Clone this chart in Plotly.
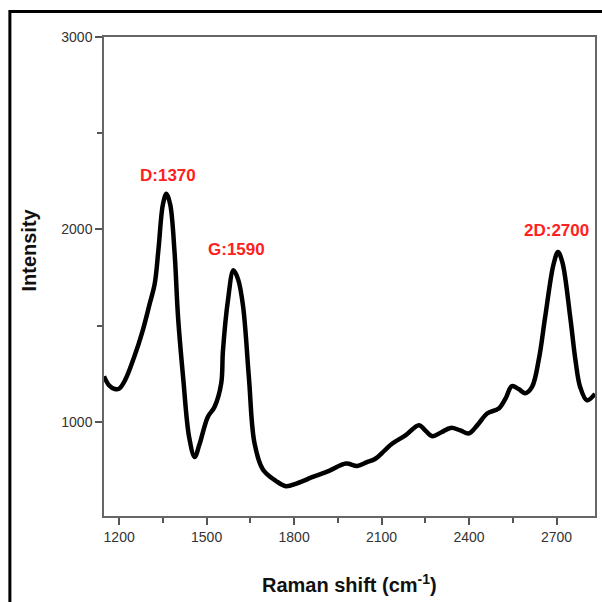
import plotly.graph_objects as go

raman_shift = [1148, 1165, 1185, 1200, 1220, 1250, 1280, 1305, 1322, 1335, 1350, 1362, 1375, 1390,
               1402, 1420, 1440, 1459, 1475, 1504, 1527, 1550, 1556, 1573, 1592, 1608, 1625, 1645,
               1664, 1693, 1738, 1772, 1810, 1864, 1920, 1978, 2017, 2050, 2080, 2110, 2137, 2183,
               2228, 2250, 2274, 2305, 2337, 2370, 2399, 2430, 2462, 2502, 2525, 2547, 2570, 2593,
               2616, 2640, 2661, 2690, 2705, 2720, 2747, 2765, 2781, 2804, 2832]
intensity = [1236, 1190, 1170, 1172, 1215, 1330, 1470, 1615, 1718, 1900, 2130, 2185, 2130, 1880,
             1544, 1220, 920, 817, 880, 1025, 1077, 1200, 1370, 1630, 1787, 1740, 1600, 1230,
             890, 752, 692, 665, 680, 713, 745, 783, 770, 790, 809, 850, 887, 930,
             982, 955, 925, 945, 968, 955, 939, 985, 1043, 1069, 1120, 1185, 1170, 1148,
             1181, 1330, 1544, 1820, 1882, 1830, 1544, 1320, 1181, 1112, 1145]

peak_labels = ["D:1370", "G:1590", "2D:2700"]
peak_label_x = [1366, 1601, 2701]
peak_label_y = [2280, 1896, 1995]

x_ticks = [1200, 1500, 1800, 2100, 2400, 2700]
y_ticks = [1000, 2000, 3000]

fig = go.Figure()
fig.add_trace(go.Scatter(x=raman_shift, y=intensity, mode="lines",
                         line=dict(color="black", width=4.5, shape="spline", smoothing=1.0),
                         showlegend=False, hoverinfo="skip"))

for t, x, y in zip(peak_labels, peak_label_x, peak_label_y):
    fig.add_annotation(x=x, y=y, text=f"<b>{t}</b>", showarrow=False,
                       font=dict(family="Liberation Sans Narrow, Arial Narrow, Liberation Sans, Arial",
                                 size=17, color="#ff2020"))

tick_font = dict(family="Liberation Sans Narrow, Arial Narrow, Liberation Sans, Arial", size=14, color="#333333")
axis_common = dict(showgrid=False, zeroline=False, showline=True, linecolor="#666666", linewidth=1.5,
                   mirror=True, ticks="outside", tickcolor="#555555", tickwidth=1.5, ticklen=7,
                   tickfont=tick_font)

fig.update_xaxes(range=[1148, 2832], tickvals=x_ticks,
                 minor=dict(ticks="outside", dtick=150, tick0=1050, ticklen=5, tickcolor="#555555", tickwidth=1.5),
                 **axis_common)
fig.update_yaxes(range=[510, 3000], tickvals=y_ticks,
                 minor=dict(ticks="outside", dtick=500, tick0=500, ticklen=5, tickcolor="#555555", tickwidth=1.5),
                 **axis_common)

title_font = dict(family="Liberation Sans Narrow, Arial Narrow, Liberation Sans, Arial", size=20, color="#111111")
fig.add_annotation(xref="paper", yref="paper", x=0.5, y=-0.14, xanchor="center", yanchor="middle",
                   text="<b>Raman shift (cm<sup>-1</sup>)</b>", showarrow=False, font=title_font)
fig.add_annotation(xref="paper", yref="paper", x=-0.152, y=0.555, xanchor="center", yanchor="middle",
                   textangle=-90, text="<b>Intensity</b>", showarrow=False, font=title_font)

# outer frame
fig.add_shape(type="rect", xref="paper", yref="paper", x0=-0.1917, x1=1.03, y0=-0.2, y1=1.0532,
              line=dict(color="black", width=3), fillcolor="rgba(0,0,0,0)", layer="below")

fig.update_layout(width=602, height=602, margin=dict(l=104, r=5, t=36.5, b=86),
                  paper_bgcolor="white", plot_bgcolor="white")

fig.write_html("out.html")
